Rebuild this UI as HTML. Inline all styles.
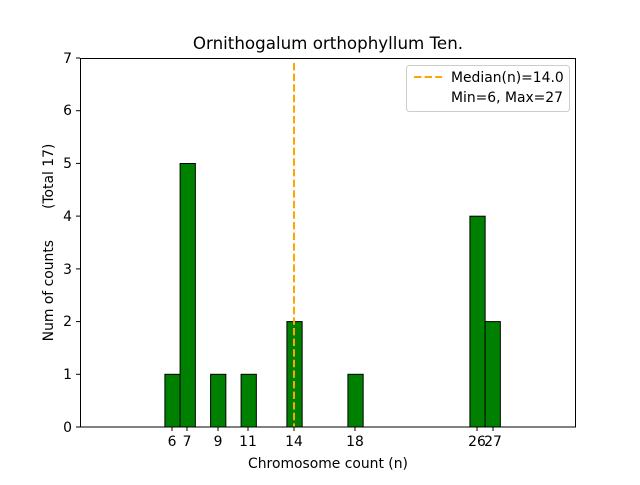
<!DOCTYPE html>
<html><head><meta charset="utf-8"><style>body{margin:0;background:#fff}</style></head><body>
<svg width="640" height="480" xmlns="http://www.w3.org/2000/svg" font-family="DejaVu Sans, Liberation Sans, sans-serif">
<rect width="640" height="480" fill="#fff"/>
<g fill="green" stroke="#000" stroke-width="1">
<rect x="164.9" y="374.3" width="15.25" height="52.7"/>
<rect x="180.1" y="163.5" width="15.25" height="263.5"/>
<rect x="210.6" y="374.3" width="15.25" height="52.7"/>
<rect x="241.1" y="374.3" width="15.25" height="52.7"/>
<rect x="286.9" y="321.6" width="15.25" height="105.4"/>
<rect x="347.9" y="374.3" width="15.25" height="52.7"/>
<rect x="469.9" y="216.2" width="15.25" height="210.8"/>
<rect x="485.1" y="321.6" width="15.25" height="105.4"/>
</g>
<line x1="500" y1="427" x2="547" y2="427" stroke="#000"/>
<line x1="294" y1="63" x2="294" y2="427" stroke="orange" stroke-width="2" stroke-dasharray="7.4,3.2"/>
<rect x="80.5" y="58.5" width="495" height="368.5" fill="none" stroke="#000"/>
<g stroke="#000">
<line x1="80" y1="427" x2="76" y2="427"/><line x1="80" y1="374.3" x2="76" y2="374.3"/><line x1="80" y1="321.6" x2="76" y2="321.6"/><line x1="80" y1="268.9" x2="76" y2="268.9"/><line x1="80" y1="216.1" x2="76" y2="216.1"/><line x1="80" y1="163.4" x2="76" y2="163.4"/><line x1="80" y1="110.7" x2="76" y2="110.7"/><line x1="80" y1="58" x2="76" y2="58"/>
<line x1="172" y1="427" x2="172" y2="431"/><line x1="187" y1="427" x2="187" y2="431"/><line x1="218" y1="427" x2="218" y2="431"/><line x1="248" y1="427" x2="248" y2="431"/><line x1="294" y1="427" x2="294" y2="431"/><line x1="355" y1="427" x2="355" y2="431"/><line x1="477" y1="427" x2="477" y2="431"/><line x1="493" y1="427" x2="493" y2="431"/>
</g>
<g font-size="13.9" text-anchor="end">
<text x="72" y="432">0</text><text x="72" y="379">1</text><text x="72" y="326">2</text><text x="72" y="274">3</text><text x="72" y="221">4</text><text x="72" y="168">5</text><text x="72" y="115">6</text><text x="72" y="63">7</text>
</g>
<g font-size="13.9" text-anchor="middle">
<text x="172" y="446">6</text><text x="187" y="446">7</text><text x="218" y="446">9</text><text x="248" y="446">11</text><text x="294" y="446">14</text><text x="355" y="446">18</text><text x="477" y="446">26</text><text x="493" y="446">27</text>
<text x="328" y="468">Chromosome count (n)</text>
<text x="328" y="49" font-size="16.7">Ornithogalum orthophyllum Ten.</text>
</g>
<text transform="translate(53,242.5) rotate(-90)" font-size="13.9" text-anchor="middle">Num of counts&#160;&#160;&#160;&#160;&#160;&#160;&#160;(Total 17)</text>
<rect x="406.5" y="65.5" width="163" height="46" rx="3" fill="#fff" stroke="#ccc"/>
<line x1="414" y1="77" x2="442" y2="77" stroke="orange" stroke-width="2" stroke-dasharray="7.4,3.2"/>
<text x="451" y="82" font-size="13.9">Median(n)=14.0</text>
<text x="451" y="102" font-size="13.9">Min=6, Max=27</text>
</svg>
</body></html>
